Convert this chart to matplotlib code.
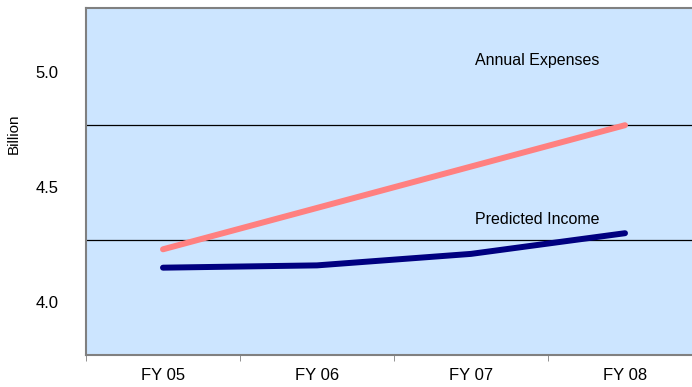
import matplotlib
matplotlib.use("Agg")
import matplotlib.pyplot as plt

plt.rcParams["font.family"] = ["Liberation Sans", "DejaVu Sans"]

years = ["FY 05", "FY 06", "FY 07", "FY 08"]
expenses = [4.23, 4.41, 4.59, 4.77]
income = [4.15, 4.16, 4.21, 4.30]
grid_levels = [4.27, 4.77]
y_ticks = [4.0, 4.5, 5.0]

fig = plt.figure(figsize=(6.92, 3.87), dpi=100)
ax = fig.add_axes([86 / 692, 32 / 387, 606 / 692, 347 / 387])
ax.set_facecolor("#CCE5FF")

x = list(range(len(years)))
ax.plot(x, expenses, color="#FF8080", lw=4.3, solid_capstyle="round")
ax.plot(x, income, color="#000080", lw=4.3, solid_capstyle="round")
for g in grid_levels:
    ax.axhline(g, color="black", lw=0.9, zorder=1)

ax.set_xlim(-0.5, 3.435)
ax.set_ylim(3.77, 5.28)

ax.set_xticks(x)
ax.set_xticklabels(years)
ax.set_xticks([-0.5, 0.5, 1.5, 2.5], minor=True)
ax.tick_params(axis="x", which="major", length=0, pad=9, labelsize=12)
ax.tick_params(axis="x", which="minor", length=4, direction="out", color="#808080")
ax.set_yticks(y_ticks)
ax.set_yticklabels([f"{v:.1f}" for v in y_ticks])
ax.tick_params(axis="y", length=0, pad=20, labelsize=12)

fig.text(14 / 692, 1 - 134 / 387, "Billion", fontsize=11, rotation=90,
         ha="center", va="center")

for side in ["top", "left", "bottom"]:
    ax.spines[side].set_color("#808080")
    ax.spines[side].set_linewidth(1.5)
ax.spines["right"].set_visible(False)

ax.text(2.43, 5.05, "Annual Expenses", fontsize=11.5, ha="center", va="center")
ax.text(2.43, 4.36, "Predicted Income", fontsize=11.5, ha="center", va="center")

fig.savefig("out.png", dpi=100)
